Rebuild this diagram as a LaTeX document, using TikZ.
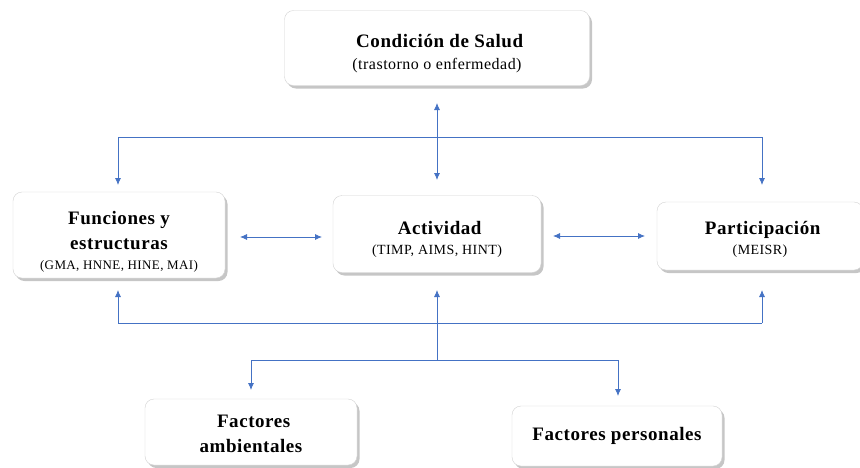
\documentclass[tikz,border=0pt]{standalone}
\usepackage{fontspec}
\setmainfont{Liberation Serif}[LetterSpace=3]
\usetikzlibrary{positioning,shadows,arrows.meta}

\definecolor{flecha}{HTML}{4472C4}

\tikzset{
  caja/.style={draw=gray!35, fill=white, rounded corners=9pt, align=center,
    font=\fontsize{19}{25}\selectfont\bfseries,
    drop shadow={shadow xshift=2.5pt, shadow yshift=-3pt, opacity=0.45}},
  enlace/.style={flecha, line width=0.8pt},
  punta/.style={enlace, -{Latex[length=7pt,width=6pt]}},
  dpunta/.style={enlace, {Latex[length=7pt,width=6pt]}-{Latex[length=7pt,width=6pt]}}
}
\newcommand{\detalle}[2]{{\fontsize{#1}{#1}\mdseries\selectfont #2}}
\newcommand{\arriba}[1][26pt]{\rule{0pt}{#1}}

\begin{document}
\begin{tikzpicture}[x=1pt,y=-1pt]
  \useasboundingbox (0,0) rectangle (860,467);

  % cajas
  \node[caja, minimum width=305pt, minimum height=75pt] (salud) at (437,48)
    {\arriba[24pt] Condición de Salud\\[-3pt] \detalle{16}{(trastorno o enfermedad)}};
  \node[caja, minimum width=212pt, minimum height=86pt] (func) at (119,235)
    {\arriba Funciones y\\ estructuras\\[-5pt] \detalle{13}{(GMA, HNNE, HINE, MAI)}};
  \node[caja, minimum width=208pt, minimum height=77pt] (act) at (437,234)
    {\arriba[24pt] Actividad\\[-5pt] \detalle{14}{(TIMP, AIMS, HINT)}};
  \node[caja, minimum width=206pt, minimum height=68pt] (part) at (760,236)
    {\arriba[20pt] Participación\\[-5pt] \detalle{14}{(MEISR)}};
  \node[caja, minimum width=212pt, minimum height=66pt] (amb) at (251,432)
    {\arriba[17pt] Factores\\ ambientales};
  \node[caja, minimum width=210pt, minimum height=60pt] (pers) at (617,436)
    {Factores personales};

  % puntos de paso
  \coordinate (s1) at (437,103);
  \coordinate (s2) at (437,180);
  \coordinate (ti) at (118,137);
  \coordinate (td) at (762,137);
  \coordinate (fa) at (118,185);
  \coordinate (pa) at (762,185);
  \coordinate (fb) at (118,290);
  \coordinate (pb) at (762,290);
  \coordinate (bi) at (118,323);
  \coordinate (bd) at (762,323);
  \coordinate (ab) at (437,290);
  \coordinate (m1) at (437,360);
  \coordinate (mi) at (251,360);
  \coordinate (md) at (618,360);
  \coordinate (ea) at (251,390);
  \coordinate (ep) at (618,396);
  \coordinate (fd) at (240,237);
  \coordinate (ai) at (322,237);
  \coordinate (ad) at (553,236);
  \coordinate (pi) at (645,236);

  % flechas
  \draw[dpunta] (s1) -- (s2);
  \draw[enlace] (ti) -- (td);
  \draw[punta] (ti) -- (fa);
  \draw[punta] (td) -- (pa);
  \draw[dpunta] (fd) -- (ai);
  \draw[dpunta] (ad) -- (pi);
  \draw[enlace] (bi) -- (bd);
  \draw[punta] (bi) -- (fb);
  \draw[punta] (bd) -- (pb);
  \draw[punta] (m1) -- (ab);
  \draw[enlace] (mi) -- (md);
  \draw[punta] (mi) -- (ea);
  \draw[punta] (md) -- (ep);
\end{tikzpicture}
\end{document}
